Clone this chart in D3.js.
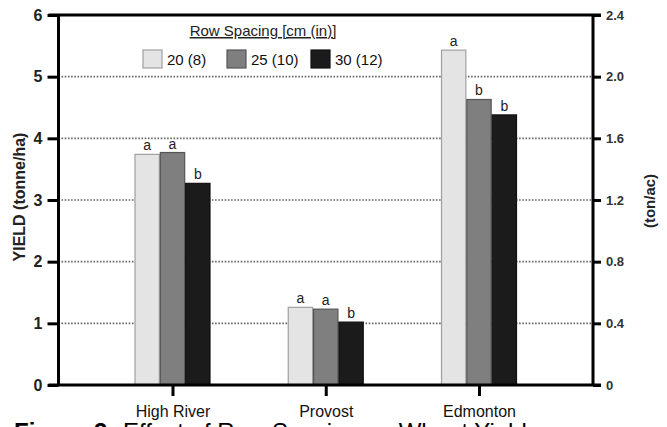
<!DOCTYPE html>
<html>
<head>
<meta charset="utf-8">
<script src="https://cdn.jsdelivr.net/npm/d3@7"></script>
<style>
html,body{margin:0;padding:0;background:#fff;overflow:hidden;}
svg{display:block;font-family:"Liberation Sans",Arial,sans-serif;}
</style>
</head>
<body>
<svg id="chart" width="667" height="427"></svg>
<script>
const categories = ["High River", "Provost", "Edmonton"];
const series = ["20 (8)", "25 (10)", "30 (12)"];
const values20 = [3.74, 1.26, 5.43];
const values25 = [3.77, 1.23, 4.63];
const values30 = [3.27, 1.02, 4.38];
const letters20 = ["a", "a", "a"];
const letters25 = ["a", "a", "b"];
const letters30 = ["b", "b", "b"];
const leftTicks = [0, 1, 2, 3, 4, 5, 6];
const rightTicks = [0, 0.4, 0.8, 1.2, 1.6, 2.0, 2.4];
const gridTicks = [1, 2, 3, 4, 5];
const legendTitle = "Row Spacing [cm (in)]";
const yLabelLeft = "YIELD (tonne/ha)";
const yLabelRight = "(ton/ac)";

const colors = ["#e4e4e4", "#7f7f7f", "#1b1b1b"];
const strokes = ["#a0a0a0", "#555", "#111"];

const svg = d3.select("#chart");
const L = 58.5, R = 593, T = 15, B = 385;

const y = d3.scaleLinear().domain([0, 6]).range([B, T]);
const y2 = d3.scaleLinear().domain([0, 2.4]).range([B, T]);
const x = d3.scalePoint().domain(categories).range([172.5, 479]);
const xs = d3.scaleBand().domain(series).range([-38, 38]);

const data = [values20, values25, values30];
const letters = [letters20, letters25, letters30];

// gridlines
svg.append("g").selectAll("line").data(gridTicks).join("line")
  .attr("x1", L + 3).attr("x2", R - 2)
  .attr("y1", d => y(d)).attr("y2", d => y(d))
  .attr("stroke", "#666").attr("stroke-width", 1.6)
  .attr("stroke-dasharray", "1.6,1.6");

// bars
categories.forEach((c, ci) => {
  series.forEach((s, si) => {
    const v = data[si][ci];
    const bx = x(c) + xs(s);
    svg.append("rect")
      .attr("x", bx + 0.5).attr("y", y(v))
      .attr("width", xs.bandwidth() - 1).attr("height", B - y(v))
      .attr("fill", colors[si]).attr("stroke", strokes[si]).attr("stroke-width", 1.2);
    svg.append("text")
      .attr("x", bx + xs.bandwidth() / 2).attr("y", y(v) - 4)
      .attr("text-anchor", "middle").attr("font-size", 14).attr("fill", "#222")
      .text(letters[si][ci]);
  });
});

// left axis
const gl = svg.append("g").attr("transform", `translate(${L},0)`)
  .call(d3.axisLeft(y).tickValues(leftTicks).tickSize(11).tickPadding(5).tickFormat(d3.format("d")));
gl.select(".domain").attr("stroke", "#000").attr("stroke-width", 3).attr("d", `M0,${T}V${B}`);
gl.selectAll(".tick line").attr("stroke", "#000").attr("stroke-width", 3);
gl.selectAll(".tick text").attr("font-size", 16).attr("font-weight", "bold").attr("fill", "#222")
  .attr("font-family", "Liberation Sans, Arial, sans-serif");

// right axis
const gr = svg.append("g").attr("transform", `translate(${R},0)`)
  .call(d3.axisRight(y2).tickValues(rightTicks).tickSize(8).tickPadding(5)
    .tickFormat(d => d === 0 ? "0" : d3.format(".1f")(d)));
gr.select(".domain").attr("stroke", "#000").attr("stroke-width", 3).attr("d", `M0,${T}V${B}`);
gr.selectAll(".tick line").attr("stroke", "#000").attr("stroke-width", 3);
gr.selectAll(".tick text").attr("font-size", 13).attr("font-weight", "bold").attr("fill", "#333")
  .attr("font-family", "Liberation Sans, Arial, sans-serif");

// top & bottom lines
svg.append("line").attr("x1", L - 10).attr("x2", R + 8).attr("y1", T).attr("y2", T)
  .attr("stroke", "#000").attr("stroke-width", 3);
const gb = svg.append("g").attr("transform", `translate(0,${B})`)
  .call(d3.axisBottom(x).tickSize(11).tickPadding(10));
gb.select(".domain").attr("d", `M${L - 10},0H${R + 8}`).attr("stroke", "#000").attr("stroke-width", 3);
gb.selectAll(".tick line").attr("stroke", "#000").attr("stroke-width", 3);
gb.selectAll(".tick text").attr("font-size", 16).attr("fill", "#111")
  .attr("font-family", "Liberation Sans, Arial, sans-serif");

// axis labels
svg.append("text").attr("transform", "translate(25,197) rotate(-90)")
  .attr("text-anchor", "middle").attr("font-size", 16).attr("font-weight", "bold").attr("fill", "#222")
  .text(yLabelLeft);
svg.append("text").attr("transform", "translate(655,201) rotate(-90)")
  .attr("text-anchor", "middle").attr("font-size", 15).attr("font-weight", "bold").attr("fill", "#222")
  .text(yLabelRight);

// legend
svg.append("text").attr("x", 263).attr("y", 36).attr("text-anchor", "middle")
  .attr("font-size", 15).attr("fill", "#222").attr("text-decoration", "underline")
  .text(legendTitle);
const legX = [143, 227, 311];
series.forEach((s, i) => {
  svg.append("rect").attr("x", legX[i]).attr("y", 50).attr("width", 19).attr("height", 18)
    .attr("fill", colors[i]).attr("stroke", strokes[i]).attr("stroke-width", 1.2);
  svg.append("text").attr("x", legX[i] + 24).attr("y", 65)
    .attr("font-size", 15).attr("fill", "#111").text(s);
});

// caption (clipped at the bottom edge, as in the reference)
const cap = svg.append("text").attr("x", 14).attr("y", 440).attr("font-size", 24).attr("fill", "#000");
cap.append("tspan").attr("font-weight", "bold").text("Figure 3:");
cap.append("tspan").attr("x", 123).text("Effect of Row Spacing on Wheat Yield");
</script>
</body>
</html>
